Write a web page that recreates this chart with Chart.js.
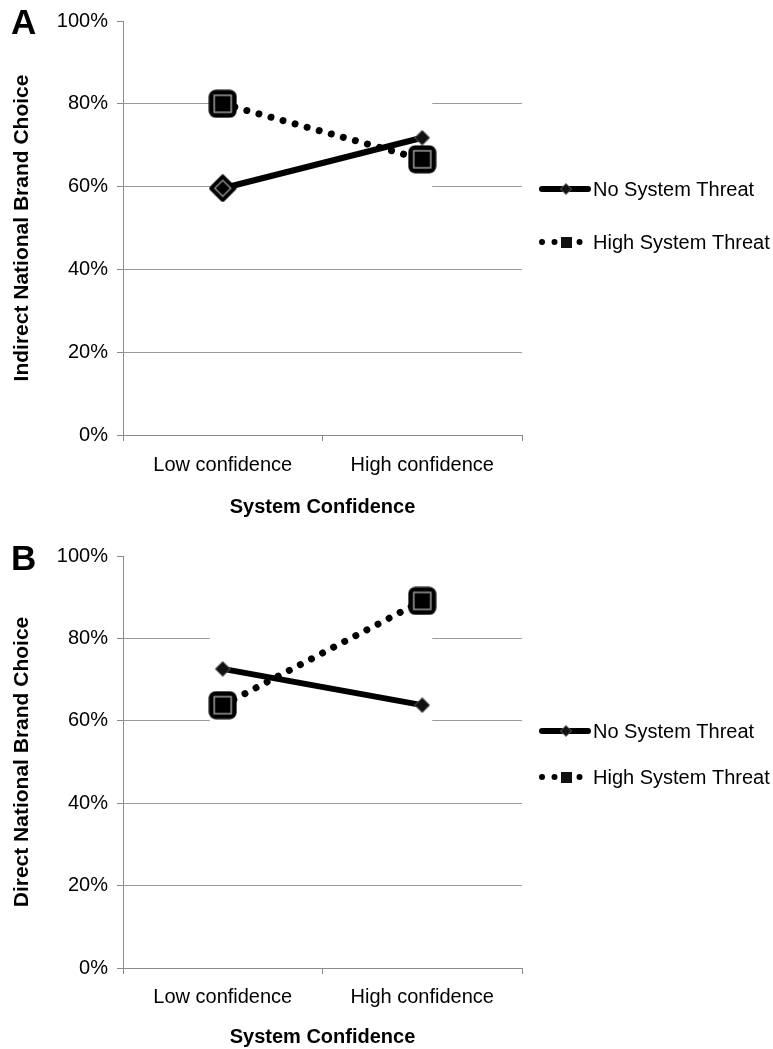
<!DOCTYPE html>
<html>
<head>
<meta charset="utf-8">
<script src="https://cdn.jsdelivr.net/npm/chart.js@4.4.1/dist/chart.umd.min.js"></script>
<style>
  body{margin:0;background:#fff;width:773px;height:1049px;position:relative;overflow:hidden;font-family:"Liberation Sans",Arial,sans-serif}
  .panel{position:absolute;left:0;width:773px}
  .tag{position:absolute;left:11px;font-weight:bold;font-size:35px;line-height:1;color:#000}
</style>
</head>
<body>
<div class="panel" style="top:0;height:530px"><canvas id="chartA" width="773" height="530"></canvas></div>
<div class="panel" style="top:535px;height:514px"><canvas id="chartB" width="773" height="514"></canvas></div>
<div class="tag" style="top:4px">A</div>
<div class="tag" style="top:540px">B</div>
<script>
// ---------- Data ----------
const categories = ['Low confidence', 'High confidence'];
const seriesNames = ['No System Threat', 'High System Threat'];
const yTicks = [0, 20, 40, 60, 80, 100];

// Panel A: indirect national brand choice (%)
const indirectNoThreat = [59.6, 71.8];
const indirectHighThreat = [80.0, 66.6];

// Panel B: direct national brand choice (%)
const directNoThreat = [72.6, 63.8];
const directHighThreat = [63.8, 89.1];

// ---------- Marker images ----------
function markerCanvas(size, draw){
  const c = document.createElement('canvas');
  c.width = size; c.height = size;
  draw(c.getContext('2d'), size);
  return c;
}

function bigSquare(){
  return markerCanvas(29, (g, s)=>{
    g.fillStyle = '#000';
    g.beginPath(); g.roundRect(0.5, 0.5, s-1, s-1, 7); g.fill();
    g.strokeStyle = '#9a9a9a'; g.lineWidth = 1.5;
    g.strokeRect(6, 6, s-12, s-12);
  });
}

function bigDiamond(){
  return markerCanvas(28, (g, s)=>{
    const m = s/2;
    g.fillStyle = '#000'; g.strokeStyle = '#000'; g.lineWidth = 5; g.lineJoin = 'round';
    g.beginPath(); g.moveTo(m, 3); g.lineTo(s-3, m); g.lineTo(m, s-3); g.lineTo(3, m); g.closePath();
    g.fill(); g.stroke();
    g.strokeStyle = '#9a9a9a'; g.lineWidth = 1.3;
    g.beginPath(); g.moveTo(m, 6); g.lineTo(s-6, m); g.lineTo(m, s-6); g.lineTo(6, m); g.closePath();
    g.stroke();
  });
}

function smallDiamond(size){
  return markerCanvas(size, (g, s)=>{
    const m = s/2;
    g.fillStyle = '#111'; g.strokeStyle = '#666'; g.lineWidth = 1;
    g.beginPath(); g.moveTo(m, 0.5); g.lineTo(s-0.5, m); g.lineTo(m, s-0.5); g.lineTo(0.5, m); g.closePath();
    g.fill(); g.stroke();
  });
}

function smallSquare(size){
  return markerCanvas(size, (g, s)=>{
    g.fillStyle = '#111'; g.fillRect(0, 0, s, s);
  });
}

// ---------- Plugins ----------
// Legend drawn to the right of the plot: line sample with marker, then label
const sideLegend = {
  id: 'sideLegend',
  afterDraw(chart, args, opts){
    const {ctx, chartArea} = chart;
    const x0 = chartArea.right + 20;
    chart.data.datasets.forEach((ds, i)=>{
      const y = chartArea.top + opts.top + i*opts.gap;
      ctx.save();
      ctx.strokeStyle = '#000';
      ctx.lineWidth = ds.legendWidth;
      ctx.lineCap = 'round';
      ctx.setLineDash(ds.borderDash || []);
      ctx.beginPath(); ctx.moveTo(x0, y); ctx.lineTo(x0 + 46, y); ctx.stroke();
      ctx.setLineDash([]);
      const mk = ds.legendMarker;
      ctx.drawImage(mk, x0 + 24 - mk.width/2, y - mk.height/2);
      ctx.fillStyle = '#000';
      ctx.font = '20px "Liberation Sans", Arial, sans-serif';
      ctx.textBaseline = 'middle';
      ctx.fillText(ds.label, x0 + 51, y + 1);
      ctx.restore();
    });
  }
};

// The source figure has the upper gridlines blanked out between the two groups
const gridGap = {
  id: 'gridGap',
  beforeDatasetsDraw(chart){
    const {ctx, chartArea, scales} = chart;
    const left = scales.x.getPixelForValue(0) - 13;
    const right = scales.x.getPixelForValue(1) + 10;
    const bottom = scales.y.getPixelForValue(60) + 2;
    ctx.save();
    ctx.fillStyle = '#fff';
    ctx.fillRect(left, chartArea.top - 1, right - left, bottom - chartArea.top + 1);
    ctx.restore();
  }
};

Chart.defaults.font.family = '"Liberation Sans", Arial, sans-serif';
Chart.defaults.color = '#000';

function makeChart(id, yTitle, noThreat, highThreat, geo){
  const ctx = document.getElementById(id).getContext('2d');
  return new Chart(ctx, {
    type: 'line',
    data: {
      labels: categories,
      datasets: [
        {
          label: seriesNames[0],
          data: noThreat,
          borderColor: '#000',
          borderWidth: 6,
          legendWidth: 6,
          pointStyle: geo.noThreatMarkers,
          legendMarker: smallDiamond(12),
          tension: 0,
          order: 2
        },
        {
          label: seriesNames[1],
          data: highThreat,
          borderColor: '#000',
          borderWidth: 7,
          legendWidth: 6,
          borderDash: [0.01, 12.5],
          borderCapStyle: 'round',
          pointStyle: [bigSquare(), bigSquare()],
          legendMarker: smallSquare(11),
          tension: 0,
          order: 1
        }
      ]
    },
    options: {
      responsive: false,
      animation: false,
      events: [],
      layout: {padding: {top: 19, right: 251, left: 0, bottom: 0}},
      plugins: {
        legend: {display: false},
        tooltip: {enabled: false},
        sideLegend: {top: geo.legendTop, gap: geo.legendGap}
      },
      scales: {
        x: {
          type: 'category',
          offset: true,
          grid: {offset: true, drawOnChartArea: false, drawTicks: true, tickLength: 6, color: '#8a8a8a'},
          border: {color: '#8a8a8a', width: 1},
          ticks: {padding: geo.xTickPad, font: {size: 20}, color: '#000'},
          title: {display: true, text: 'System Confidence', font: {size: 20, weight: 'bold'}, color: '#000',
                  padding: {top: 0, bottom: geo.xTitlePad}},
          afterFit(s){ s.height = geo.xHeight; }
        },
        y: {
          min: 0,
          max: 100,
          afterBuildTicks(s){ s.ticks = yTicks.map(v=>({value: v})); },
          grid: {
            color: (c)=> (c.tick && c.tick.value === 100) ? 'rgba(0,0,0,0)' : '#9a9a9a',
            tickColor: '#8a8a8a',
            tickLength: 6
          },
          border: {color: '#8a8a8a', width: 1},
          ticks: {padding: 9, font: {size: 20}, color: '#000', callback: (v)=> v + '%'},
          title: {display: true, text: yTitle, font: {size: 21, weight: 'bold'}, color: '#000',
                  padding: {top: 10, bottom: 0}},
          afterFit(s){ s.width = 123; }
        }
      }
    },
    plugins: [sideLegend, gridGap]
  });
}

makeChart('chartA', 'Indirect National Brand Choice', indirectNoThreat, indirectHighThreat, {
  noThreatMarkers: [bigDiamond(), smallDiamond(16)],
  xHeight: 95, xTickPad: 12, xTitlePad: 11,
  legendTop: 168, legendGap: 53
});

makeChart('chartB', 'Direct National Brand Choice', directNoThreat, directHighThreat, {
  noThreatMarkers: [smallDiamond(16), smallDiamond(16)],
  xHeight: 81, xTickPad: 11, xTitlePad: 0,
  legendTop: 175, legendGap: 46
});
</script>
</body>
</html>
